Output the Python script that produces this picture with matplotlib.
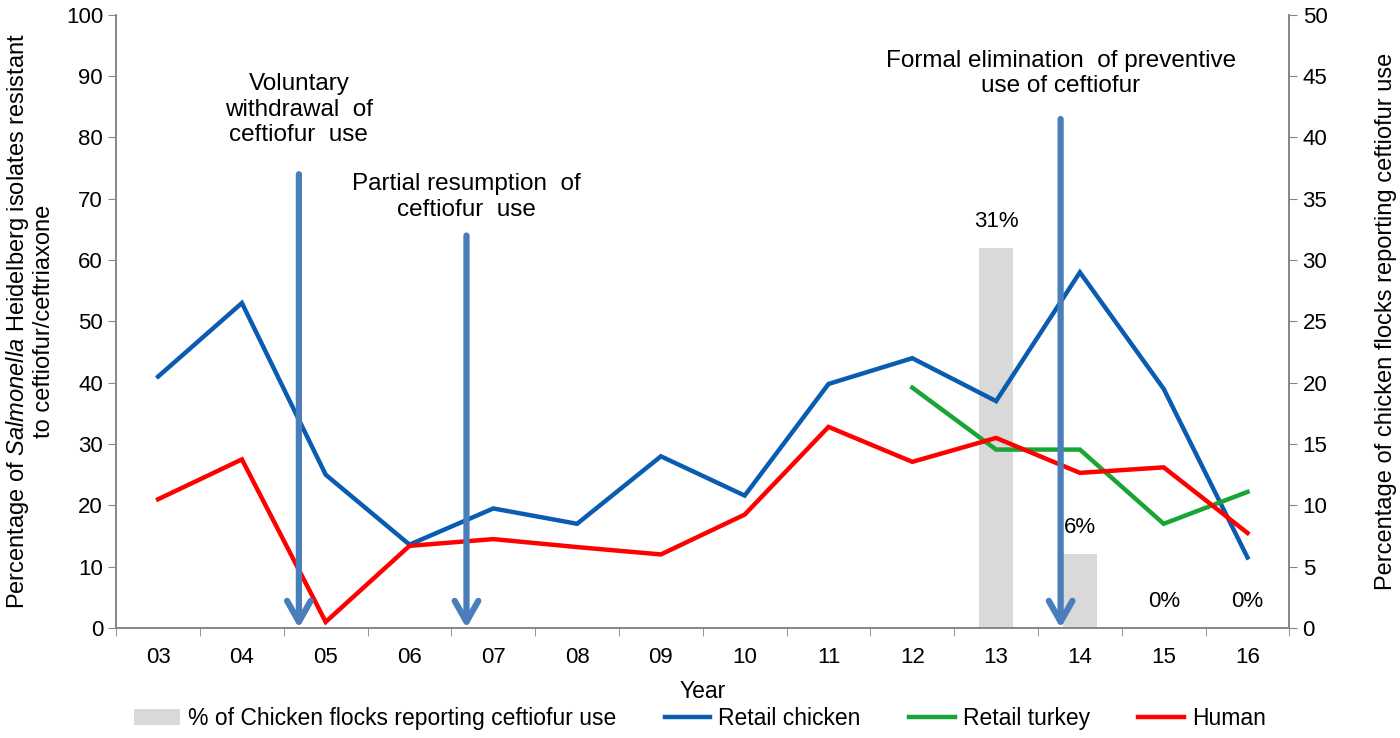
import numpy as np
from matplotlib import pyplot as plt

plt.rcParams['font.family'] = ['Liberation Sans', 'DejaVu Sans']
plt.rcParams['mathtext.fontset'] = 'custom'
plt.rcParams['mathtext.rm'] = 'Liberation Sans'
plt.rcParams['mathtext.it'] = 'Liberation Sans:italic'

years = ["03", "04", "05", "06", "07", "08", "09", "10", "11", "12", "13", "14", "15", "16"]

chicken = [41, 53, 25, 13.6, 19.5, 17, 28, 21.6, 39.8, 44, 37, 58, 39, 11.5]
human = [21, 27.5, 1, 13.4, 14.5, 13.2, 12, 18.5, 32.8, 27.1, 31, 25.3, 26.2, 15.5]
turkey_years = ["12", "13", "14", "15", "16"]
turkey = [39.2, 29.1, 29.1, 17, 22.2]

flock_years = ["13", "14", "15", "16"]
flocks = [31, 6, 0, 0]
flock_labels = ["31%", "6%", "0%", "0%"]

# events: position between years, top of arrow (left axis units), text
event_pos = [1.68, 3.68, 10.77]
event_top = [74, 64, 83]
event_text = ["Voluntary\nwithdrawal  of\nceftiofur  use",
              "Partial resumption  of\nceftiofur  use",
              "Formal elimination  of preventive\nuse of ceftiofur"]
event_text_y = [84.5, 70.3, 90.4]

x = np.arange(len(years))
xt = [years.index(y) for y in turkey_years]
xf = [years.index(y) for y in flock_years]

fig = plt.figure(figsize=(14, 7.38), dpi=100)
ax = fig.add_axes([0.083, 0.149, 0.838, 0.831])
ax2 = ax.twinx()

ax2.bar(xf, flocks, width=0.4, color="#d9d9d9", zorder=1,
        label="% of Chicken flocks reporting ceftiofur use")
for xi, v, lab in zip(xf, flocks, flock_labels):
    ax2.text(xi, v + 1.3, lab, ha="center", va="bottom", fontsize=16)
ax2.set_ylim(0, 50)
ax2.set_yticks(range(0, 51, 5))

ax.set_zorder(ax2.get_zorder() + 1)
ax.patch.set_visible(False)

ax.plot(x, chicken, color="#0a5cb2", lw=3.2, label="Retail chicken", solid_joinstyle="miter")
ax.plot(xt, turkey, color="#18a535", lw=3.2, label="Retail turkey", solid_joinstyle="miter")
ax.plot(x, human, color="#ff0000", lw=3.2, label="Human", solid_joinstyle="miter")

for xp, top, txt, ty in zip(event_pos, event_top, event_text, event_text_y):
    ax.annotate("", xy=(xp, 0), xytext=(xp, top),
                arrowprops=dict(arrowstyle="->,head_length=1.5,head_width=0.85",
                                color="#4a7ebb", lw=4.5, shrinkA=0, shrinkB=0))
    ax.text(xp, ty, txt, ha="center", va="center", fontsize=17.5, linespacing=1.2)

ax.set_xlim(-0.5, 13.5)
ax.set_ylim(0, 100)
ax.set_yticks(range(0, 101, 10))
ax.set_xticks(x)
ax.set_xticklabels(years)
ax.set_xticks(np.arange(-0.5, 13.6, 1), minor=True)
ax.tick_params(axis="x", which="major", length=0, labelsize=16, pad=14)
ax.tick_params(axis="x", which="minor", length=6, color="#868686")
ax.tick_params(axis="y", labelsize=16, length=6, color="#868686")
ax2.tick_params(axis="y", labelsize=16, length=6, color="#868686")
ax.set_xlabel("Year", fontsize=16.5, labelpad=8)

ax.set_ylabel("Percentage of $\\it{Salmonella}$ Heidelberg isolates resistant\nto ceftiofur/ceftriaxone",
              fontsize=17, labelpad=8, linespacing=1.1)
ax2.set_ylabel("Percentage of chicken flocks reporting ceftiofur use", fontsize=17, labelpad=34)

for a in (ax, ax2):
    for s in ["top"]:
        a.spines[s].set_visible(False)
    for s in ["left", "right", "bottom"]:
        a.spines[s].set_color("#868686")
        a.spines[s].set_linewidth(1.2)

h1, l1 = ax2.get_legend_handles_labels()
h2, l2 = ax.get_legend_handles_labels()
fig.legend(h1 + h2, l1 + l2, loc="center", bbox_to_anchor=(0.5, 0.027), ncol=4,
           frameon=False, fontsize=16.5, handlelength=2.0, columnspacing=2.1, handletextpad=0.35)

fig.savefig("out.png", dpi=100)
